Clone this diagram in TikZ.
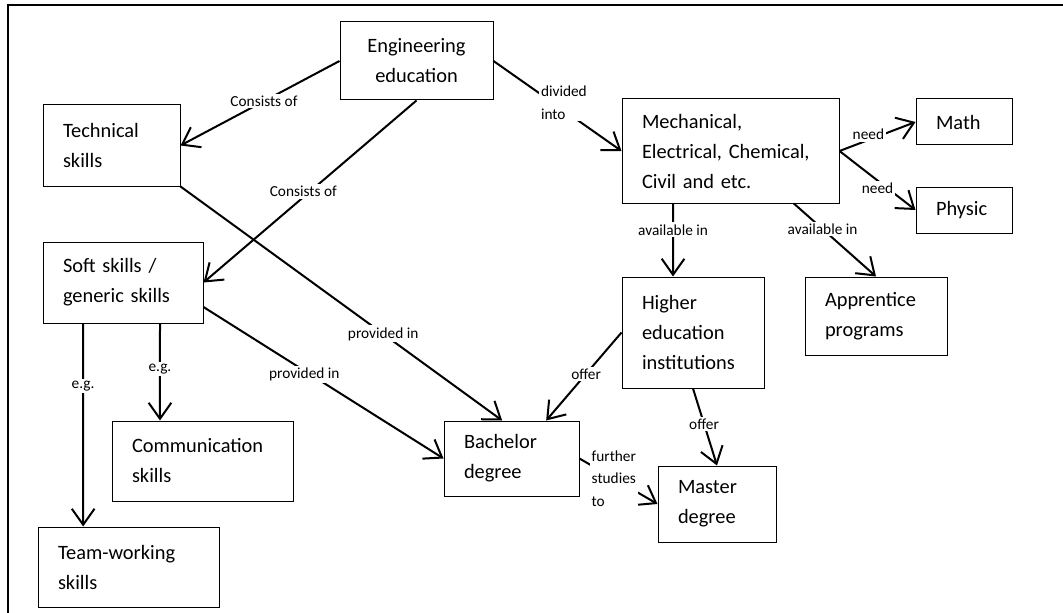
\documentclass[tikz,border=0pt]{standalone}
\usepackage{fontspec}
\setmainfont{Carlito}
\usetikzlibrary{arrows.meta}
\newcommand{\boxfont}{\fontsize{15.3pt}{22.5pt}\selectfont}
\newcommand{\lblfont}{\fontsize{11.5pt}{17pt}\selectfont}

\begin{document}
\begin{tikzpicture}[x=0.75pt, y=-0.75pt,
        box/.style={draw, line width=0.75pt, align=left, inner xsep=15pt, inner ysep=0pt, font=\boxfont},
        lbl/.style={fill=white, font=\lblfont, inner sep=1.5pt},
        arr/.style={line width=1.5pt, -{Straight Barb[length=12pt,width=17pt]}}]
        \useasboundingbox (0,0) rectangle (1063,613);

        % Frame
        \draw[line width=1.5pt] (8,613) -- (8,5) -- (1063,5);

        % Boxes
        \node[box, align=center, text width=84.75pt, minimum height=58.5pt] (eng) at (416.5,61) {Engineering\\education};
        \node[box, text width=72.75pt, minimum height=60.75pt] (tech) at (111.5,145.5) {Technical\\skills};
        \node[box, text width=90pt, minimum height=60.75pt] (soft) at (123,282.5) {Soft skills /\\generic skills};
        \node[box, text width=105.75pt, minimum height=60pt] (comm) at (202.5,461) {Communication\\skills};
        \node[box, text width=105.75pt, minimum height=60pt] (team) at (128.5,567) {Team-working\\skills};
        \node[box, text width=71.25pt, minimum height=56.25pt] (bach) at (511.5,458.5) {Bachelor\\degree};
        \node[box, text width=58.5pt, minimum height=57pt] (mast) at (717,504) {Master\\degree};
        \node[box, text width=132.75pt, minimum height=78pt] (mech) at (730.5,151) {Mechanical,\\Electrical, Chemical,\\Civil and etc.};
        \node[box, text width=42pt, minimum height=34.5pt] (math) at (964,122) {Math};
        \node[box, text width=42pt, minimum height=34.5pt] (phys) at (964,210) {Physic};
        \node[box, text width=76.5pt, minimum height=83.25pt] (heis) at (693,332.5) {Higher\\education\\institutions};
        \node[box, text width=76.5pt, minimum height=58.5pt] (appr) at (876,316) {Apprentice\\programs};

        % Arrows
        \draw[arr] (eng.west) -- node[lbl, pos=0.475] {Consists of} (tech.east);
        \draw[arr] (eng.south) -- node[lbl, pos=0.5, xshift=-5pt] {Consists of} (soft.east);
        \draw[arr] (eng.east) -- node[lbl, align=left, pos=0.55, yshift=6pt] {divided\\into} (mech.west);
        \draw[arr] (mech.east) -- node[lbl, pos=0.38, yshift=4pt] {need} (math.west);
        \draw[arr] (mech.east) -- node[lbl, pos=0.5, yshift=-6pt] {need} (phys.west);
        \draw[arr] ([xshift=-43pt]mech.south) -- node[lbl, pos=0.36] {available in} ([xshift=-15pt]heis.north);
        \draw[arr] ([xshift=47.5pt]mech.south) -- node[lbl, pos=0.35] {available in} (appr.north);
        \draw[arr] (heis.west) -- node[lbl, pos=0.47] {offer} ([xshift=26pt]bach.north);
        \draw[arr] (heis.south) -- node[lbl, pos=0.46] {offer} (mast.north);
        \draw[arr] (tech.south east) -- node[lbl, pos=0.63] {provided in} ([xshift=-7pt]bach.north);
        \draw[arr] ([yshift=-18.4pt]soft.east) -- node[lbl, pos=0.42, yshift=-3pt] {provided in} (bach.west);
        \draw[arr] ([xshift=-30pt]soft.south) -- node[lbl, pos=0.31] {e.g.} ([xshift=-34pt]team.north);
        \draw[arr] ([xshift=27.75pt]soft.south) -- node[lbl, pos=0.47] {e.g.} ([xshift=-31.9pt]comm.north);
        \draw[arr] (bach.east) -- node[lbl, align=left, pos=0.44] {further\\studies\\to} (mast.west);
    \end{tikzpicture}
\end{document}
